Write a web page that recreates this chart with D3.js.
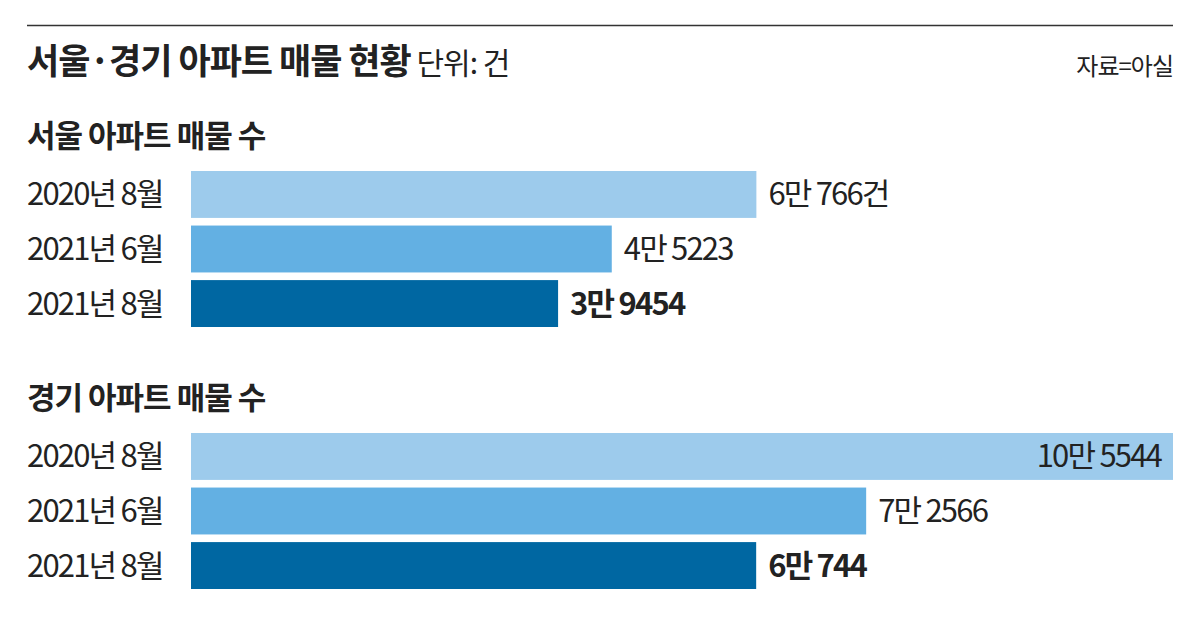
<!DOCTYPE html><html><head><meta charset="utf-8"><script src="https://cdn.jsdelivr.net/npm/d3@7"></script>
<style>body{margin:0;background:#fff}text{font-family:"Noto Sans CJK KR";fill:#222}</style></head><body><svg id="c" width="1200" height="617"></svg>
<script>
const categories=["2020년 8월","2021년 6월","2021년 8월"];
const seoulValues=[60766,45223,39454];
const seoulLabels=["6만 766건","4만 5223","3만 9454"];
const gyeonggiValues=[105544,72566,60744];
const gyeonggiLabels=["10만 5544","7만 2566","6만 744"];
const colors=["#9dcbec","#63b0e3","#0067a2"];
const svg=d3.select("#c");
svg.append("line").attr("x1",27).attr("x2",1173).attr("y1",25.5).attr("y2",25.5).attr("stroke","#333").attr("stroke-width",1.5);
const t=svg.append("text").attr("x",27).attr("y",74);
t.append("tspan").text("서울·경기 아파트 매물 현황").attr("font-size",35).attr("font-weight",700).attr("letter-spacing",-1);
t.append("tspan").text(" 단위: 건").attr("font-size",30).attr("letter-spacing",-1);
svg.append("text").attr("x",1173).attr("y",75).attr("text-anchor","end").attr("font-size",24).attr("letter-spacing",-1).text("자료=아실");
const x=d3.scaleLinear().domain([0,105544]).range([191,1173]);
function section(title,ty,top,vals,labels){
 svg.append("text").attr("x",27).attr("y",ty).attr("font-size",31).attr("font-weight",700).attr("letter-spacing",-1).text(title);
 const y=d3.scaleBand().domain(categories).range([top,top+156]).paddingInner(0.14).paddingOuter(0);
 categories.forEach((c,i)=>{
  svg.append("rect").attr("x",x(0)).attr("y",y(c)).attr("width",x(vals[i])-x(0)).attr("height",y.bandwidth()).attr("fill",colors[i]);
  svg.append("text").attr("x",27).attr("y",y(c)+y.bandwidth()/2+11).attr("font-size",31).attr("letter-spacing",-1.8).text(c);
  const inside=x(vals[i])>1100;
  svg.append("text").attr("x",inside?x(vals[i])-12:x(vals[i])+12).attr("text-anchor",inside?"end":"start")
   .attr("y",y(c)+y.bandwidth()/2+11).attr("font-size",31).attr("letter-spacing",-1.8).attr("font-weight",i==2?700:400).text(labels[i]);
 });
}
section("서울 아파트 매물 수",147,171,seoulValues,seoulLabels);
section("경기 아파트 매물 수",409,433,gyeonggiValues,gyeonggiLabels);
</script></body></html>
